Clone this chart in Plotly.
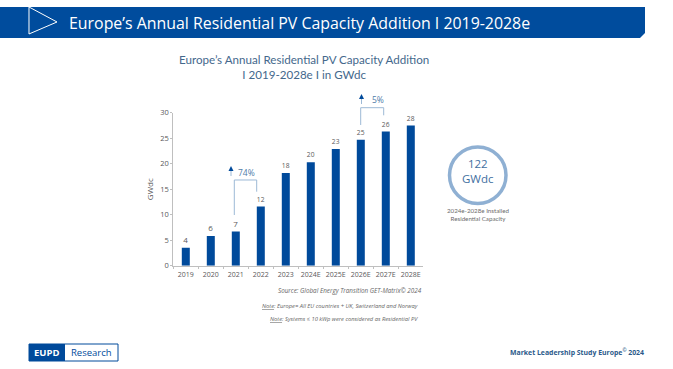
import plotly.graph_objects as go

W, H = 673, 369
categories = ["2019","2020","2021","2022","2023","2024E","2025E","2026E","2027E","2028E"]
values = [3.5, 5.8, 6.7, 11.6, 18.2, 20.3, 22.9, 24.7, 26.3, 27.5]
labels = ["4","6","7","12","18","20","23","25","26","28"]
y_ticks = [0, 5, 10, 15, 20, 25, 30]

FONT = "Open Sans"
NARROW = "Lato"
BLUE = "#004a9b"
LIGHT = "#9db9d6"
STEEL = "#4f7ba8"
GREY = "#595959"

def px(x): return x / W
def py(y): return 1 - y / H

fig = go.Figure(go.Bar(
    x=categories, y=values, width=0.32, marker=dict(color=BLUE, line_width=0),
    text=labels, textposition="outside", cliponaxis=False,
    textfont=dict(family=FONT, size=8, color=GREY), hoverinfo="skip"))

shapes, anns = [], []

def rect(x0, y0, x1, y1, **k):
    shapes.append(dict(type="rect", xref="paper", yref="paper", x0=px(x0), x1=px(x1),
                       y0=py(y0), y1=py(y1), layer="below", **k))

def path(points, close=False, **k):
    d = "M" + " L".join(f"{px(a):.5f},{py(b):.5f}" for a, b in points) + (" Z" if close else "")
    shapes.append(dict(type="path", xref="paper", yref="paper", path=d, **k))

def text(x, y, s, size, color=GREY, anchor="center", family=FONT):
    anns.append(dict(xref="paper", yref="paper", x=px(x), y=py(y), text=s, showarrow=False,
                     xanchor=anchor, yanchor="middle", align=anchor,
                     font=dict(family=family, size=size, color=color)))

# Header band
path([(0,7),(645,7),(645,33),(640,38),(0,38)], close=True, fillcolor="#004c9d", line_width=0, layer="below")
path([(29,7),(57,22),(29,34)], close=True, fillcolor="rgba(0,0,0,0)", line=dict(color="white", width=1))
text(67, 22.5, "Europe’s Annual Residential PV Capacity Addition I 2019-2028e", 15.9, "white", "left")

# Chart title
text(303.5, 67.5, "Europe’s Annual Residential PV Capacity Addition<br>I 2019-2028e I in GWdc", 11.6, "#44688c", family=NARROW)

# Growth brackets
path([(234.3,215),(234.3,180),(256.7,180),(256.7,191.7)], fillcolor="rgba(0,0,0,0)", line=dict(color=LIGHT, width=1))
path([(360.7,125),(360.7,107.7),(383.7,107.7),(383.7,115.3)], fillcolor="rgba(0,0,0,0)", line=dict(color=LIGHT, width=1))
for ax, top in [(231, 166), (361.5, 94)]:
    path([(ax, top+5),(ax, top+10)], line=dict(color=LIGHT, width=1))
    path([(ax-2.5, top+5),(ax, top),(ax+2.5, top+5)], close=True, fillcolor=BLUE, line_width=0)
text(236, 172.5, "74%", 8.5, STEEL, "left")
text(369.5, 100, "5%", 8.5, STEEL, "left")

# Total circle
shapes.append(dict(type="circle", xref="paper", yref="paper",
                   x0=px(449.5), x1=px(506), y0=py(203.5), y1=py(147),
                   line=dict(color="#8fb0d3", width=3.5), fillcolor="white"))
text(477.7, 171.5, "122<br>GWdc", 11.5, "#3f6f9f")
text(477.7, 214, "2024e-2028e Installed<br>Residential Capacity", 6.2, "#6b6b6b", family=NARROW)

# Source and notes
text(350, 290, "<i>Source: Global Energy Transition GET-Matrix© 2024</i>", 6.3, "#666666")
text(420, 306, "<i><u>Note</u>: Europe= All EU countries + UK, Switzerland and Norway</i>", 5.75, "#666666", "right")
text(420, 319, "<i><u>Note</u>: Systems ≤ 10 kWp were considered as Residential PV</i>", 5.75, "#666666", "right")

# Logo and footer
rect(29, 344, 118, 361, fillcolor="white", line=dict(color=BLUE, width=1))
rect(29, 344, 65, 361, fillcolor=BLUE, line_width=0)
text(47, 352.5, "<b>EUPD</b>", 9.5, "white")
text(92, 352.5, "Research", 9.5, BLUE)
text(646, 352, "<b>Market Leadership Study Europe<sup>©</sup> 2024</b>", 6.9, "#2b5a8a", "right")

fig.update_layout(
    width=W, height=H, margin=dict(l=0, r=0, t=0, b=0, autoexpand=False),
    paper_bgcolor="white", plot_bgcolor="white", showlegend=False,
    shapes=shapes, annotations=anns,
    font=dict(family=FONT, size=7.5, color=GREY),
    xaxis=dict(domain=[px(173.3), px(423.3)], type="category", tickson="boundaries", tickangle=0,
               ticks="outside", ticklen=2, tickcolor="#bfbfbf", showgrid=False, ticklabelstandoff=2,
               showline=True, linecolor="#bfbfbf", linewidth=1, tickfont=dict(size=7, color=GREY)),
    yaxis=dict(domain=[py(265.7), py(112.7)], range=[0, 30], tickvals=y_ticks,
               ticks="outside", ticklen=2, tickcolor="#bfbfbf", showgrid=False, zeroline=False,
               showline=True, linecolor="#bfbfbf", linewidth=1, tickfont=dict(size=7.5, color=GREY),
               title=dict(text="GWdc", font=dict(size=8, color=GREY), standoff=5)),
)
fig.write_html("out.html", config=dict(displayModeBar=False),
               post_script="document.body.style.margin='0';")
